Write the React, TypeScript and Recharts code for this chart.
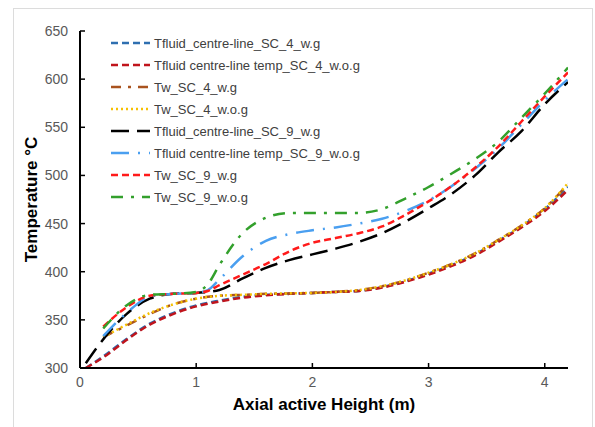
import { LineChart, Line, XAxis, YAxis, Label } from 'recharts'

// axial positions (m) for each group of curves
const xFluid4 = [0.05, 0.2, 0.4, 0.6, 0.8, 1.0, 1.2, 1.4, 1.6, 1.8, 2.0, 2.2, 2.4, 2.6, 2.8, 3.0, 3.2, 3.4, 3.6, 3.8, 4.0, 4.2]
const xWall4 = [0.2, 0.4, 0.6, 0.8, 1.0, 1.2, 1.4, 1.6, 1.8, 2.0, 2.2, 2.4, 2.6, 2.8, 3.0, 3.2, 3.4, 3.6, 3.8, 4.0, 4.2]
const xFluid9 = [0.05, 0.15, 0.4, 0.6, 0.8, 1.0, 1.2, 1.4, 1.6, 1.8, 2.0, 2.2, 2.4, 2.6, 2.8, 3.0, 3.2, 3.4, 3.6, 3.8, 4.0, 4.2]
const xOther9 = [0.2, 0.4, 0.6, 0.8, 1.0, 1.1, 1.2, 1.4, 1.6, 1.8, 2.0, 2.2, 2.4, 2.6, 2.8, 3.0, 3.2, 3.4, 3.6, 3.8, 4.0, 4.2]

// temperatures (°C)
const fluidSC4wg = [300, 312, 330, 346, 357, 365, 370, 374, 376, 377, 378, 379, 380, 384, 390, 398, 407, 418, 432, 447, 465, 488]
const fluidSC4wog = [300, 311, 329, 345, 356, 364, 369, 373, 375.5, 377, 378, 379, 380, 383.5, 389.5, 397, 406, 417, 431, 446, 463, 485]
const wallSC4wg = [332, 344, 356, 366, 372, 375, 376, 377, 377.5, 378, 379, 381, 385, 391, 399, 408, 419, 433, 448, 466, 491]
const wallSC4wog = [332, 345, 357, 366, 372, 375, 376, 377, 377.5, 378, 379, 381, 385, 391, 399, 408, 419, 433, 448, 466, 492]
const fluidSC9wg = [305, 322, 356, 372, 377, 378, 381, 393, 404, 412, 418, 424, 431, 440, 452, 466, 481, 500, 524, 546, 574, 597]
const fluidSC9wog = [333, 357, 374, 377, 378, 381, 392, 416, 432, 439, 443, 446, 450, 455, 463, 474, 489, 507, 528, 553, 578, 600]
const wallSC9wg = [343, 363, 375, 377, 378, 380, 386, 397, 408, 421, 430, 435, 440, 447, 459, 473, 489, 508, 530, 556, 582, 607]
const wallSC9wog = [341, 365, 376, 377, 379, 387, 407, 440, 456, 461, 461, 461, 461, 465, 476, 488, 502, 517, 535, 560, 585, 612]

const yTicks = [300, 350, 400, 450, 500, 550, 600, 650]
const xTicks = [0, 1, 2, 3, 4]

const zip = (xs: number[], ys: number[]) => xs.map((x, i) => ({ x, y: ys[i] }))

const series = [
    { name: 'Tfluid_centre-line_SC_4_w.g', data: zip(xFluid4, fluidSC4wg), color: '#2e6fb0', dash: '7 4' },
    { name: 'Tfluid centre-line temp_SC_4_w.o.g', data: zip(xFluid4, fluidSC4wog), color: '#c0141c', dash: '7 4' },
    { name: 'Tw_SC_4_w.g', data: zip(xWall4, wallSC4wg), color: '#a9531f', dash: '10 7 3 7' },
    { name: 'Tw_SC_4_w.o.g', data: zip(xWall4, wallSC4wog), color: '#f5c000', dash: '2 3' },
    { name: 'Tfluid_centre-line_SC_9_w.g', data: zip(xFluid9, fluidSC9wg), color: '#000000', dash: '18 8' },
    { name: 'Tfluid centre-line temp_SC_9_w.o.g', data: zip(xOther9, fluidSC9wog), color: '#4a9ff0', dash: '18 9 2 9' },
    { name: 'Tw_SC_9_w.g', data: zip(xOther9, wallSC9wg), color: '#ff1a1a', dash: '7 4' },
    { name: 'Tw_SC_9_w.o.g', data: zip(xOther9, wallSC9wog), color: '#33a02c', dash: '12 8 3 8' },
]

function LegendBox() {
    return (
        <svg width={320} height={180} style={{ position: 'absolute', left: 105, top: 32 }}>
            {series.map((s, i) => (
                <g key={s.name} transform={`translate(0, ${11 + i * 22})`}>
                    <line x1={6} x2={45} y1={0} y2={0} stroke={s.color} strokeWidth={2.5} strokeDasharray={s.dash} />
                    <text x={49} y={0} dy="0.35em" fontSize={13} fill="#404040" fontFamily="Liberation Sans, Arial, sans-serif">
                        {s.name}
                    </text>
                </g>
            ))}
        </svg>
    )
}

export default function App() {
    return (
        <div style={{ position: 'absolute', left: 0, top: 0, width: 595, height: 427, background: '#fff', overflow: 'hidden' }}>
            <div style={{ position: 'absolute', left: 13, top: 8, width: 580, height: 430, border: '1px solid #dcdcdc', boxSizing: 'border-box' }} />
            <LineChart
                width={595}
                height={427}
                margin={{ top: 31, right: 27, bottom: 29, left: 20 }}
                style={{ fontFamily: 'Liberation Sans, Arial, sans-serif' }}
            >
                <XAxis
                    dataKey="x"
                    type="number"
                    domain={[0, 4.2]}
                    ticks={xTicks}
                    allowDataOverflow
                    height={30}
                    tickSize={-5}
                    tickMargin={14}
                    axisLine={{ stroke: '#000', strokeWidth: 2 }}
                    tickLine={{ stroke: '#000', strokeWidth: 1.5 }}
                    tick={{ fill: '#595959', fontSize: 14 }}
                >
                    <Label value="Axial active Height (m)" position="bottom" offset={0} style={{ fontSize: 17, fontWeight: 'bold', fill: '#000' }} />
                </XAxis>
                <YAxis
                    type="number"
                    domain={[300, 650]}
                    ticks={yTicks}
                    width={60}
                    tickSize={-5}
                    tickMargin={17}
                    axisLine={{ stroke: '#000', strokeWidth: 2 }}
                    tickLine={{ stroke: '#000', strokeWidth: 1.5 }}
                    tick={{ fill: '#595959', fontSize: 14 }}
                >
                    <Label value="Temperature °C" angle={-90} position="insideLeft" offset={11} style={{ fontSize: 17, fontWeight: 'bold', fill: '#000', textAnchor: 'middle' }} />
                </YAxis>
                {series.map(s => (
                    <Line
                        key={s.name}
                        data={s.data}
                        dataKey="y"
                        name={s.name}
                        type="monotone"
                        stroke={s.color}
                        strokeWidth={2.5}
                        strokeDasharray={s.dash}
                        dot={false}
                        activeDot={false}
                        isAnimationActive={false}
                    />
                ))}
            </LineChart>
            <LegendBox />
        </div>
    )
}
